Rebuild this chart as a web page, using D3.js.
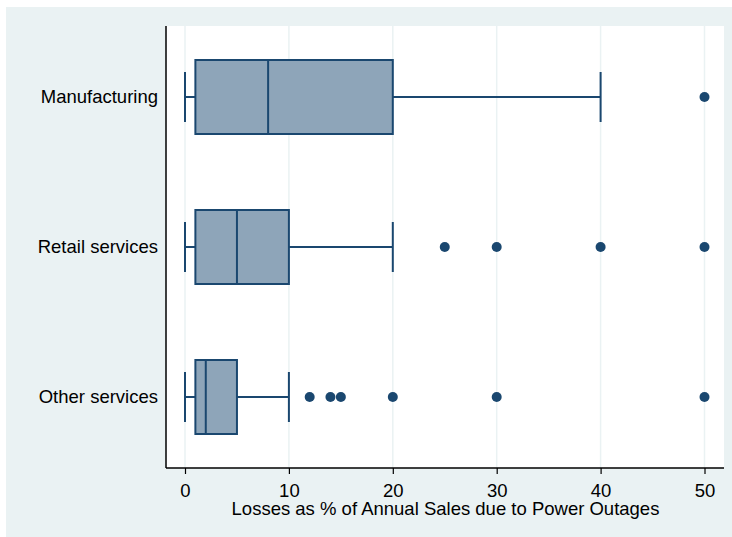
<!DOCTYPE html>
<html><head><meta charset="utf-8">
<script src="https://cdn.jsdelivr.net/npm/d3@7"></script>
<style>body{margin:0;background:#fff}svg{display:block}</style>
</head><body><svg id="c" width="732" height="537"></svg>
<script>
const categories = ["Manufacturing", "Retail services", "Other services"];
const lowerWhisker = [0, 0, 0];
const q1 = [1, 1, 1];
const median = [8, 5, 2];
const q3 = [20, 10, 5];
const upperWhisker = [40, 20, 10];
const outliers = [[50], [25, 30, 40, 50], [12, 14, 15, 20, 30, 50]];
const xTicks = [0, 10, 20, 30, 40, 50];
const xTitle = "Losses as % of Annual Sales due to Power Outages";

const svg = d3.select("#c");
const font = "'Liberation Sans', Arial, sans-serif";
const fs = 18.5;
const navy = "#1a476f";
svg.append("rect").attr("x",6).attr("y",7).attr("width",726).attr("height",530).attr("fill","#eaf2f3");
const L=166, R=724, T=26, B=468;
svg.append("rect").attr("x",L).attr("y",T).attr("width",R-L).attr("height",B-T).attr("fill","#fff");

const x = d3.scaleLinear().domain([0,50]).range([185,704.5]);
const y = d3.scalePoint().domain(categories).range([97,397]);

// grid
svg.append("g").selectAll("line").data(xTicks).join("line")
  .attr("x1",d=>x(d)).attr("x2",d=>x(d)).attr("y1",T).attr("y2",B)
  .attr("stroke","#eaf2f3").attr("stroke-width",1.5);

const boxH = 74, capH = 50;
const g = svg.append("g");
categories.forEach((c,i)=>{
  const cy = y(c);
  g.append("line").attr("x1",x(lowerWhisker[i])).attr("x2",x(q1[i])).attr("y1",cy).attr("y2",cy).attr("stroke",navy).attr("stroke-width",2);
  g.append("line").attr("x1",x(q3[i])).attr("x2",x(upperWhisker[i])).attr("y1",cy).attr("y2",cy).attr("stroke",navy).attr("stroke-width",2);
  [lowerWhisker[i], upperWhisker[i]].forEach(v=>{
    g.append("line").attr("x1",x(v)).attr("x2",x(v)).attr("y1",cy-capH/2).attr("y2",cy+capH/2).attr("stroke",navy).attr("stroke-width",2);
  });
  g.append("rect").attr("x",x(q1[i])).attr("y",cy-boxH/2).attr("width",x(q3[i])-x(q1[i])).attr("height",boxH)
    .attr("fill","#8ea5b9").attr("stroke",navy).attr("stroke-width",2);
  g.append("line").attr("x1",x(median[i])).attr("x2",x(median[i])).attr("y1",cy-boxH/2).attr("y2",cy+boxH/2).attr("stroke",navy).attr("stroke-width",2);
  g.selectAll(null).data(outliers[i]).join("circle").attr("cx",d=>x(d)).attr("cy",cy).attr("r",5).attr("fill",navy);
});

// axes
const xa = svg.append("g").attr("transform",`translate(0,${B})`)
  .call(d3.axisBottom(x).tickValues(xTicks).tickSize(6).tickPadding(6).tickFormat(d3.format("d")));
xa.select(".domain").attr("d",`M${L},0H${R}`).attr("stroke","#000").attr("stroke-width",1.5);
xa.selectAll(".tick line").attr("stroke","#000").attr("stroke-width",1.2);
xa.selectAll(".tick text").attr("font-family",font).attr("font-size",fs).attr("fill","#000")
  .attr("y",28.7).attr("dy",null);

const ya = svg.append("g").attr("transform",`translate(${L},0)`)
  .call(d3.axisLeft(y).tickSize(0).tickPadding(8));
ya.select(".domain").attr("d",`M0,${T}V${B}`).attr("stroke","#000").attr("stroke-width",1.5);
ya.selectAll(".tick text").attr("font-family",font).attr("font-size",fs).attr("fill","#000");

svg.append("text").attr("x",(L+R)/2 + 0.5).attr("y",515).attr("text-anchor","middle")
  .attr("font-family",font).attr("font-size",fs).attr("fill","#000").text(xTitle);
</script></body></html>
